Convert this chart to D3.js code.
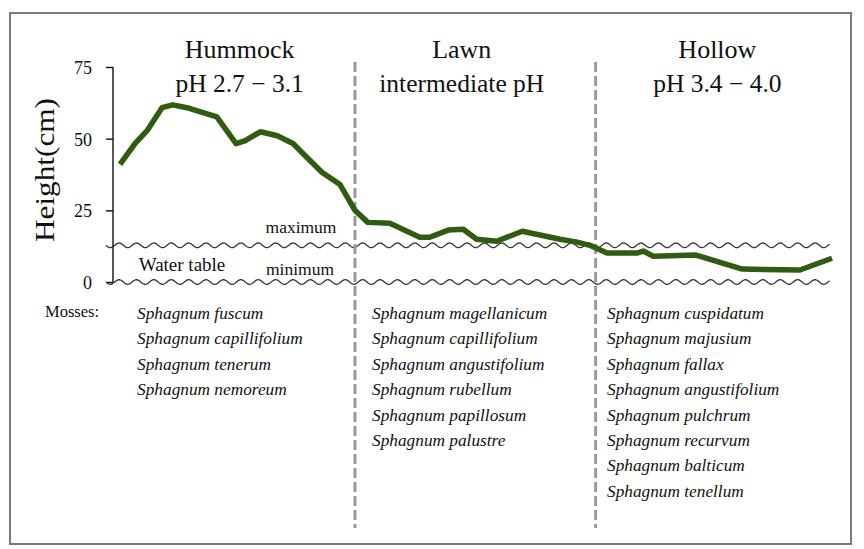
<!DOCTYPE html>
<html><head><meta charset="utf-8">
<script src="https://cdn.jsdelivr.net/npm/d3@7"></script>
<style>body{margin:0;background:#fff}svg{display:block}text{font-family:"Liberation Serif","DejaVu Serif",serif;fill:#111}</style>
</head><body><svg id="c" width="864" height="549"></svg>
<script>
// --- data ---
const distance = [0,2.1,3.8,5.9,7.4,9.4,11.2,13.6,16.3,17.6,19.7,22.1,24.3,26.4,28.4,30.9,33.0,34.8,37.9,42.1,43.5,46.1,48.2,50.1,52.9,56.5,61.8,64.2,66.0,68.4,72.6,73.5,74.9,80.9,87.4,95.5,100];
const height   = [41.0,48.3,52.8,60.8,61.8,60.8,59.4,57.6,48.3,49.3,52.4,51.0,48.3,43.1,38.2,34.0,25.0,20.8,20.5,15.6,15.6,18.1,18.4,14.9,14.2,17.7,14.9,13.9,12.8,10.1,10.1,10.8,9.0,9.4,4.5,4.2,8.3];
const yTicks = [0,25,50,75];
const waterTable = {maximum:12.8, minimum:0};
const zoneBounds = [33.0, 66.8];
const zoneTitles = [["Hummock","pH 2.7 − 3.1"],["Lawn","intermediate pH"],["Hollow","pH 3.4 − 4.0"]];
const zoneCenters = [16.8, 48.0, 83.9];
const mosses = [
 ["Sphagnum fuscum","Sphagnum capillifolium","Sphagnum tenerum","Sphagnum nemoreum"],
 ["Sphagnum magellanicum","Sphagnum capillifolium","Sphagnum angustifolium","Sphagnum rubellum","Sphagnum papillosum","Sphagnum palustre"],
 ["Sphagnum cuspidatum","Sphagnum majusium","Sphagnum fallax","Sphagnum angustifolium","Sphagnum pulchrum","Sphagnum recurvum","Sphagnum balticum","Sphagnum tenellum"]
];
const mossStart = [2.4, 35.4, 68.4];

// --- layout ---
const svg = d3.select("#c");
const x = d3.scaleLinear().domain([0,100]).range([120,832]);
const y = d3.scaleLinear().domain([0,75]).range([282,67]);

svg.append("rect").attr("x",10).attr("y",13).attr("width",841).attr("height",531)
  .attr("fill","none").attr("stroke","#7a7a7a").attr("stroke-width",2);

// axis
const ax = svg.append("g").attr("transform","translate(113,0)")
  .call(d3.axisLeft(y).tickValues(yTicks).tickSize(7).tickPadding(14).tickFormat(d3.format("d")));
ax.select(".domain").attr("stroke","#111").attr("stroke-width",1.4).attr("d","M0,"+y(75)+"V"+y(0));
ax.selectAll(".tick line").attr("stroke","#111").attr("stroke-width",1.4);
ax.selectAll(".tick text").attr("font-size",18).attr("font-family","Liberation Serif").attr("fill","#111").attr("dy","0.36em");

svg.append("text").attr("transform","translate(54,170) rotate(-90)").attr("text-anchor","middle")
  .attr("font-size",27).attr("textLength",144).attr("lengthAdjust","spacingAndGlyphs").text("Height(cm)");

// wavy water table lines
function wave(val){
  const pts = d3.range(106, 830, 0.5).map(px => [px, y(val) + 2.3*Math.sin((px-106)/17.4*2*Math.PI)]);
  return d3.line().curve(d3.curveLinear)(pts);
}
Object.values(waterTable).forEach(v=>{
  svg.append("path").attr("d",wave(v)).attr("fill","none").attr("stroke","#333").attr("stroke-width",1.3);
});
svg.append("text").attr("x",301).attr("y",y(waterTable.maximum)-12).attr("text-anchor","middle").attr("font-size",17.5).text("maximum");
svg.append("text").attr("x",300).attr("y",y(waterTable.minimum)-7).attr("text-anchor","middle").attr("font-size",17.5).text("minimum");
svg.append("text").attr("x",182).attr("y",271).attr("text-anchor","middle").attr("font-size",19).text("Water table");

// zone dividers
zoneBounds.forEach(b=>{
  svg.append("line").attr("x1",x(b)).attr("x2",x(b)).attr("y1",62).attr("y2",528)
   .attr("stroke","#999").attr("stroke-width",3).attr("stroke-dasharray","10,4");
});

// titles
zoneTitles.forEach((t,i)=>{
  const cx = x(zoneCenters[i]);
  svg.append("text").attr("x",cx).attr("y",58).attr("text-anchor","middle").attr("font-size",26).text(t[0]);
  svg.append("text").attr("x",cx).attr("y",92).attr("text-anchor","middle").attr("font-size",25.5).text(t[1]);
});

// data line
svg.append("path").datum(distance.map((d,i)=>[d,height[i]]))
  .attr("d", d3.line().x(d=>x(d[0])).y(d=>y(d[1])).curve(d3.curveLinear))
  .attr("fill","none").attr("stroke","#2f5c10").attr("stroke-width",5.5).attr("stroke-linejoin","round").attr("stroke-linecap","butt");

// mosses
svg.append("text").attr("x",45).attr("y",317).attr("font-size",16.5).text("Mosses:");
mosses.forEach((col,i)=>{
  col.forEach((m,j)=>{
    svg.append("text").attr("x",x(mossStart[i])).attr("y",319+j*25.4)
      .attr("font-size",17.3).attr("font-style","italic").text(m);
  });
});
</script></body></html>
